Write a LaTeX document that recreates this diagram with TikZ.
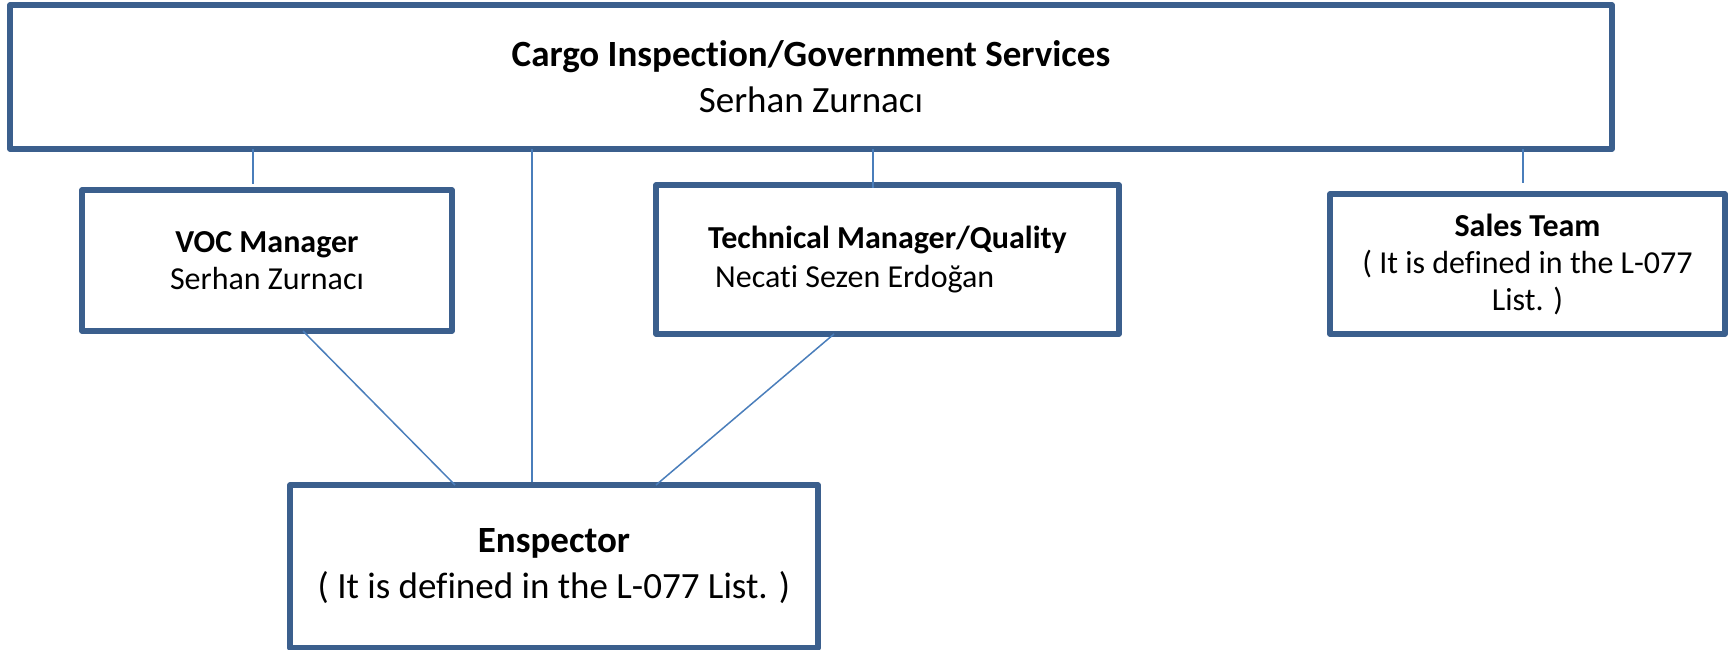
\documentclass[tikz,border=0pt]{standalone}
\usepackage{fontspec}
\setmainfont{Carlito}[Ligatures=NoCommon]
\definecolor{boxline}{HTML}{3B5F8D}
\definecolor{connline}{HTML}{4A7EBB}
\newcommand{\fsz}[2]{\fontsize{#1pt}{#2pt}\selectfont}
\tikzset{
  orgbox/.style={draw=boxline, line width=5.5pt, line join=round, fill=white, rectangle, align=center, inner sep=0pt, outer sep=0pt},
  conn/.style={draw=connline, line width=1.5pt}
}
\begin{document}
\begin{tikzpicture}[x=1pt,y=-1pt]
\useasboundingbox (0,0) rectangle (1734,650);
\node[orgbox, minimum width=1602pt, minimum height=144pt, font=\fsz{37}{46}] (top) at (811,77)
  {\textbf{Cargo Inspection/Government Services}\\ Serhan Zurnacı};
\node[orgbox, minimum width=370pt, minimum height=141pt, font=\fsz{32}{37}] (voc) at (267,260.5)
  {\textbf{VOC Manager}\\ Serhan Zurnacı};
\node[orgbox, minimum width=463pt, minimum height=149pt, align=left, font=\fsz{32}{39}] (tech) at (887.5,259.5)
  {\textbf{Technical Manager/Quality}\\ \hspace*{7pt}Necati Sezen Erdoğan};
\node[orgbox, minimum width=395pt, minimum height=140pt, font=\fsz{32}{37}] (sales) at (1527.5,264)
  {\textbf{Sales Team}\\ ( It is defined in the L-077\\ List. )};
\node[orgbox, minimum width=528pt, minimum height=163pt, font=\fsz{37}{46}] (ensp) at (554,566.5)
  {\textbf{Enspector}\\ ( It is defined in the L-077 List. )};
\coordinate (cvoc) at (253,184);
\coordinate (cens) at (532,482);
\coordinate (ctech) at (873,188);
\coordinate (csales) at (1523,183);
\coordinate (dv1) at (303,331);
\coordinate (dv2) at (455,485);
\coordinate (dt1) at (834,332);
\coordinate (dt2) at (656,485);
\draw[conn] (top.south -| cvoc) -- (cvoc);
\draw[conn] (top.south -| cens) -- (cens);
\draw[conn] (top.south -| ctech) -- (ctech);
\draw[conn] (top.south -| csales) -- (csales);
\draw[conn] (voc.south -| dv1) -- (ensp.north -| dv2);
\draw[conn] (tech.south -| dt1) -- (ensp.north -| dt2);
\end{tikzpicture}
\end{document}
